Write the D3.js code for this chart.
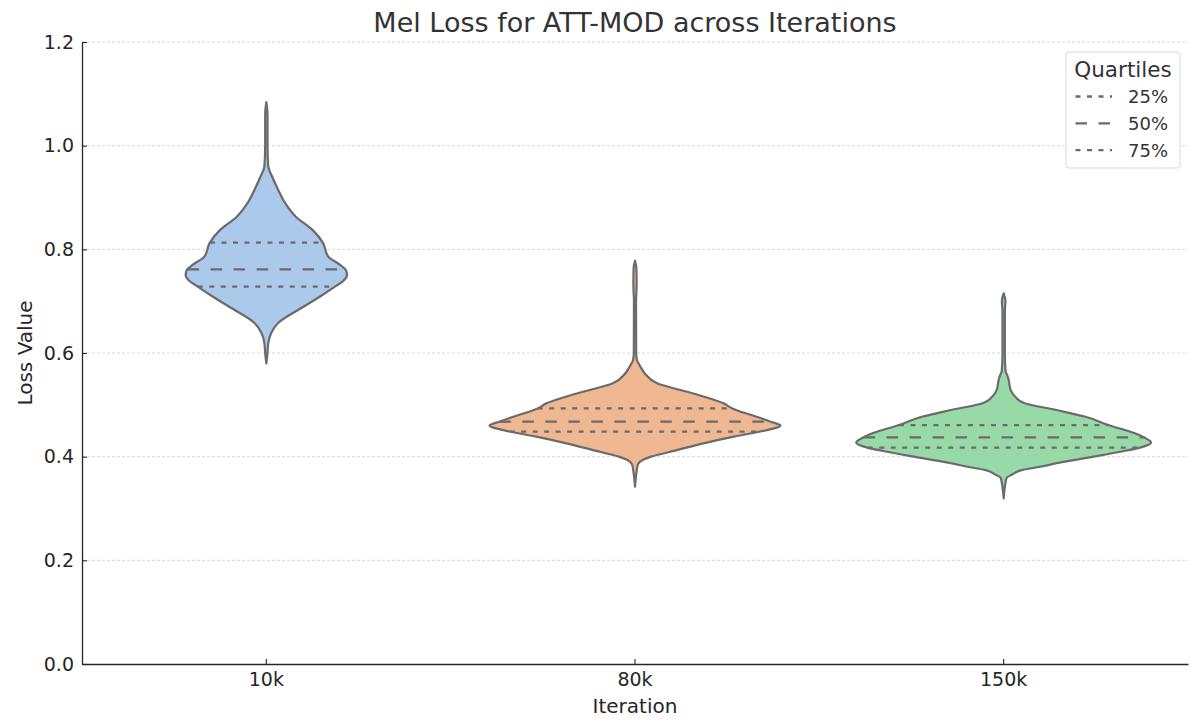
<!DOCTYPE html>
<html>
<head>
<meta charset="utf-8">
<script src="https://cdn.jsdelivr.net/npm/d3@7"></script>
<style>
  body { margin: 0; background: #fff; }
  svg { font-family: 'DejaVu Sans', sans-serif; }
</style>
</head>
<body>
<svg id="chart" width="1190" height="722"></svg>
<script>
// categories on the x axis
const iterations = ['10k', '80k', '150k'];
const colors = ['#abc9ea', '#efb792', '#98daa7'];

// estimated density profile of each violin: [loss, density]
const density10k = [
  [1.084, 0], [1.06, 0.08], [1.0, 0.08], [0.96, 0.13], [0.94, 0.4], [0.915, 0.8],
  [0.889, 1.28], [0.863, 2.0], [0.837, 3.15], [0.812, 3.85], [0.786, 4.2],
  [0.77, 5.0], [0.76, 5.4], [0.75, 5.47], [0.74, 5.25], [0.728, 4.65],
  [0.709, 3.65], [0.683, 2.15], [0.658, 0.8], [0.639, 0.34], [0.619, 0.13],
  [0.6, 0.08], [0.58, 0]
];
const density80k = [
  [0.778, 0], [0.765, 0.09], [0.74, 0.11], [0.72, 0.1], [0.70, 0.07], [0.60, 0.08],
  [0.5865, 0.13], [0.575, 0.34], [0.56, 0.68], [0.5415, 1.5], [0.522, 3.95],
  [0.503, 6.0], [0.493, 6.6], [0.477, 8.25], [0.4675, 9.2], [0.46, 9.86],
  [0.4485, 8.5], [0.4386, 6.7], [0.4257, 4.65], [0.413, 2.9], [0.40, 1.1],
  [0.394, 0.54], [0.385, 0.2], [0.37, 0.1], [0.342, 0]
];
const density150k = [
  [0.715, 0], [0.70, 0.12], [0.68, 0.08], [0.60, 0.08], [0.565, 0.13], [0.555, 0.27],
  [0.548, 0.34], [0.529, 0.47], [0.515, 0.8], [0.503, 1.42], [0.49, 3.58],
  [0.477, 5.55], [0.461, 7.1], [0.445, 8.9], [0.4374, 9.5], [0.427, 10.0],
  [0.418, 9.3], [0.41, 8.0], [0.40, 6.08], [0.39, 4.05], [0.38, 2.36],
  [0.374, 1.22], [0.365, 0.54], [0.359, 0.2], [0.345, 0.1], [0.3196, 0]
];
const densities = [density10k, density80k, density150k];

// quartiles [25%, 50%, 75%]
const quartiles10k = [0.728, 0.7615, 0.813];
const quartiles80k = [0.4485, 0.4675, 0.493];
const quartiles150k = [0.4175, 0.4374, 0.461];
const quartiles = [quartiles10k, quartiles80k, quartiles150k];

const yTicks = [0, 0.2, 0.4, 0.6, 0.8, 1.0, 1.2];
const quartileLabels = ['25%', '50%', '75%'];

const lineColor = '#6b6b6b';
const dotted = '5,6.5';
const dashed = '11.5,11.5';

const width = 1190, height = 722;
const margin = { top: 42, right: 2, bottom: 58, left: 82 };

const svg = d3.select('#chart');

const x = d3.scaleBand().domain(iterations).range([margin.left, width - margin.right]);
const y = d3.scaleLinear().domain([0, 1.2]).range([height - margin.bottom, margin.top]);
const maxDensity = d3.max(densities.flat(), d => d[1]);
const w = d3.scaleLinear().domain([0, maxDensity]).range([0, x.bandwidth() * 0.4]);

// grid
svg.append('g')
  .selectAll('line')
  .data(yTicks.filter(t => t > 0))
  .join('line')
  .attr('x1', margin.left)
  .attr('x2', width - margin.right)
  .attr('y1', d => y(d))
  .attr('y2', d => y(d))
  .attr('stroke', '#d3d3d3')
  .attr('stroke-width', 0.9)
  .attr('stroke-dasharray', '3,2');

// violins
const area = d3.area()
  .curve(d3.curveMonotoneY)
  .y(d => y(d[0]));

// density at a given loss value (linear interpolation of the profile)
function densityAt(profile, v) {
  const sorted = profile.slice().sort((a, b) => a[0] - b[0]);
  for (let i = 1; i < sorted.length; i++) {
    if (v <= sorted[i][0]) {
      const [a, da] = sorted[i - 1];
      const [b, db] = sorted[i];
      return da + (db - da) * (v - a) / (b - a);
    }
  }
  return 0;
}

iterations.forEach((it, i) => {
  const cx = x(it) + x.bandwidth() / 2;
  const g = svg.append('g');
  g.append('path')
    .datum(densities[i])
    .attr('d', area.x0(d => cx - w(d[1])).x1(d => cx + w(d[1])))
    .attr('fill', colors[i])
    .attr('stroke', lineColor)
    .attr('stroke-width', 2.2)
    .attr('stroke-linejoin', 'round');

  g.selectAll('line')
    .data(quartiles[i])
    .join('line')
    .attr('x1', d => cx - w(densityAt(densities[i], d)))
    .attr('x2', d => cx + w(densityAt(densities[i], d)))
    .attr('y1', d => y(d))
    .attr('y2', d => y(d))
    .attr('stroke', lineColor)
    .attr('stroke-width', 2.3)
    .attr('stroke-dasharray', (d, j) => j === 1 ? dashed : dotted);
});

// axes
const yAxis = svg.append('g')
  .attr('transform', `translate(${margin.left},0)`)
  .call(d3.axisLeft(y).tickValues(yTicks).tickFormat(d3.format('.1f'))
    .tickSizeInner(-5).tickSizeOuter(0).tickPadding(8));

const xAxis = svg.append('g')
  .attr('transform', `translate(0,${height - margin.bottom})`)
  .call(d3.axisBottom(x).tickSizeInner(-5).tickSizeOuter(0).tickPadding(9));

[xAxis, yAxis].forEach(a => {
  a.select('.domain').attr('stroke', '#262626').attr('stroke-width', 1.3);
  a.selectAll('.tick line').attr('stroke', '#262626').attr('stroke-width', 1.1);
  a.selectAll('.tick text')
    .attr('fill', '#262626')
    .style('font-size', '19px')
    .style('font-family', 'DejaVu Sans');
});

// titles
svg.append('text')
  .text('Mel Loss for ATT-MOD across Iterations')
  .attr('x', (margin.left + width - margin.right) / 2)
  .attr('y', 32)
  .attr('text-anchor', 'middle')
  .attr('fill', '#333')
  .style('font-size', '27px');

svg.append('text')
  .text('Iteration')
  .attr('x', (margin.left + width - margin.right) / 2)
  .attr('y', 713)
  .attr('text-anchor', 'middle')
  .attr('fill', '#262626')
  .style('font-size', '20px');

svg.append('text')
  .text('Loss Value')
  .attr('transform', `translate(31.5,${(margin.top + height - margin.bottom) / 2}) rotate(-90)`)
  .attr('text-anchor', 'middle')
  .attr('fill', '#262626')
  .style('font-size', '20px');

// legend
const legend = svg.append('g').attr('transform', 'translate(1066,52)');
legend.append('rect')
  .attr('width', 114)
  .attr('height', 116)
  .attr('rx', 3)
  .attr('fill', 'rgba(255,255,255,0.85)')
  .attr('stroke', '#d8d8d8')
  .attr('stroke-width', 1);

legend.append('text')
  .text('Quartiles')
  .attr('x', 57)
  .attr('y', 25)
  .attr('text-anchor', 'middle')
  .attr('fill', '#333')
  .style('font-size', '21.5px');

const entries = legend.selectAll('.entry')
  .data(quartileLabels)
  .join('g')
  .attr('class', 'entry')
  .attr('transform', (d, i) => `translate(0,${44.5 + i * 26.8})`);

entries.append('line')
  .attr('x1', 9.5)
  .attr('x2', 46)
  .attr('stroke', lineColor)
  .attr('stroke-width', 2.3)
  .attr('stroke-dasharray', (d, i) => i === 1 ? dashed : dotted);

entries.append('text')
  .text(d => d)
  .attr('x', 62)
  .attr('y', 6.5)
  .attr('fill', '#333')
  .style('font-size', '18px');
</script>
</body>
</html>
